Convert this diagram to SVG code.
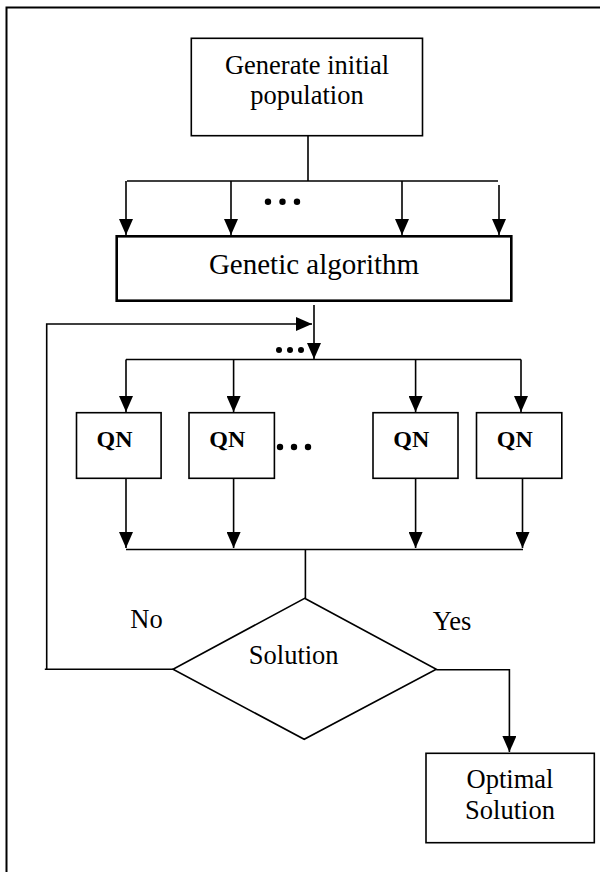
<svg xmlns="http://www.w3.org/2000/svg" width="600" height="872" viewBox="0 0 600 872">
<defs>
<marker id="ah" viewBox="0 0 16 14" refX="16" refY="7" markerWidth="16" markerHeight="14" markerUnits="userSpaceOnUse" orient="auto">
<path d="M0,0 L16,7 L0,14 Z" fill="#000"/>
</marker>
</defs>
<style>
.box{fill:#fff;stroke:#000;stroke-width:1.6}
.thick{stroke-width:2.6}
.ln{fill:none;stroke:#000;stroke-width:1.6}
.arr{fill:none;stroke:#000;stroke-width:1.6;marker-end:url(#ah)}
.t{font-family:"Liberation Serif","Times New Roman",serif;font-size:26.5px;fill:#000;text-anchor:middle}
.qn{font-family:"Liberation Serif","Times New Roman",serif;font-size:24px;font-weight:bold;fill:#000;text-anchor:middle}
.dot{fill:#000}
</style>
<rect width="600" height="872" fill="#fff"/>
<g id="frame">
<path class="ln" d="M600,7.5 L6.5,7.5 L6.5,872" style="stroke-width:2"/>
</g>
<g id="connectors">
<path class="ln" d="M308,136 V181 M127,181 H498"/>
<path class="arr" d="M126,181 V235"/>
<path class="arr" d="M231,181 V235"/>
<path class="arr" d="M402,181 V235"/>
<path class="arr" d="M499,185 V235"/>
<path class="arr" d="M314,305 V359"/>
<path class="arr" d="M46.7,669 V324 H312"/>
<path class="ln" d="M126,359.5 H521"/>
<path class="arr" d="M126,359.5 V412"/>
<path class="arr" d="M233.6,359.5 V412"/>
<path class="arr" d="M415.6,359.5 V412"/>
<path class="arr" d="M521,359.5 V412"/>
<path class="arr" d="M126,479 V548"/>
<path class="arr" d="M233.6,479 V548"/>
<path class="arr" d="M415.6,479 V548"/>
<path class="arr" d="M522.5,479 V548"/>
<path class="ln" d="M126,549.5 H523 M305.4,549.5 V598"/>
<path class="ln" d="M44.8,669.3 H173"/>
<path class="arr" d="M436.3,669.8 H509.4 V752"/>
</g>
<g id="dots1">
<circle class="dot" cx="268" cy="201.7" r="3.2"/><circle class="dot" cx="282.5" cy="201.7" r="3.2"/><circle class="dot" cx="297" cy="201.7" r="3.2"/>
</g>
<g id="dots2">
<circle class="dot" cx="279" cy="350" r="3"/><circle class="dot" cx="290" cy="350" r="3"/><circle class="dot" cx="301" cy="350" r="3"/>
</g>
<g id="dots3">
<circle class="dot" cx="280" cy="447" r="3.2"/><circle class="dot" cx="294" cy="447" r="3.2"/><circle class="dot" cx="308" cy="447" r="3.2"/>
</g>
<g id="init">
<rect class="box" x="191.3" y="38.3" width="231.2" height="97.4"/>
<text class="t" x="307" y="74">Generate initial</text>
<text class="t" x="307" y="103.5">population</text>
</g>
<g id="ga">
<rect class="box thick" x="116.7" y="236.3" width="394.6" height="64.4"/>
<text class="t" x="314" y="274" style="font-size:29px">Genetic algorithm</text>
</g>
<g id="qn1">
<rect class="box" x="76.5" y="412.7" width="84.6" height="65.6"/>
<text class="qn" x="114.5" y="446.7">QN</text>
</g>
<g id="qn2">
<rect class="box" x="189" y="412.7" width="85.4" height="65.6"/>
<text class="qn" x="227.3" y="446.7">QN</text>
</g>
<g id="qn3">
<rect class="box" x="373" y="412.7" width="85" height="65.6"/>
<text class="qn" x="411.3" y="446.7">QN</text>
</g>
<g id="qn4">
<rect class="box" x="476.5" y="412.7" width="85.3" height="65.6"/>
<text class="qn" x="514.8" y="446.7">QN</text>
</g>
<g id="decision">
<polygon class="box" points="304.6,598.3 436.3,669.3 304.2,739.3 173,669.3"/>
<text class="t" x="293.7" y="664">Solution</text>
</g>
<g id="labels">
<text class="t" x="146.5" y="627.7">No</text>
<text class="t" x="452" y="630">Yes</text>
</g>
<g id="optimal">
<rect class="box" x="426" y="753.3" width="168.3" height="89.4"/>
<text class="t" x="510" y="788.3">Optimal</text>
<text class="t" x="510" y="819.3">Solution</text>
</g>
</svg>
